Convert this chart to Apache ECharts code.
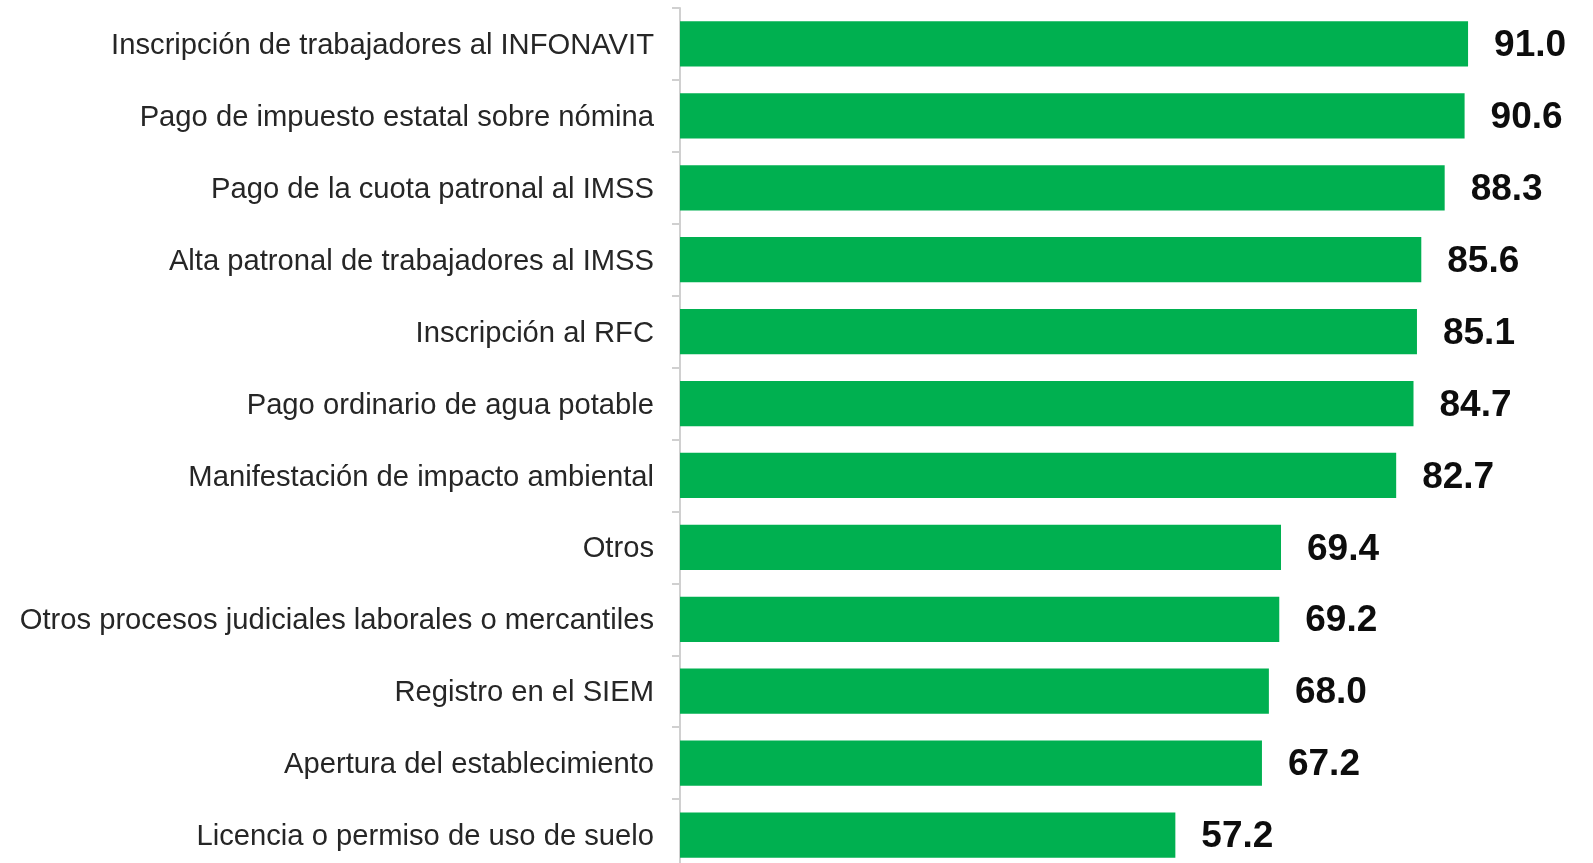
<!DOCTYPE html>
<html>
<head>
<meta charset="UTF-8">
<title>Trámites</title>
<script src="https://cdn.jsdelivr.net/npm/echarts@6/dist/echarts.min.js"></script>
<style type="text/css">
body{
	padding:0;
	margin:0;
	background:#fff;
}
#chart{
	width:1593px;
	height:863px;
}
</style>
</head>
<body>
<div id="chart"></div>
<script type="text/javascript">
// categorias de arriba hacia abajo
var categorias = [
	'Inscripción de trabajadores al INFONAVIT',
	'Pago de impuesto estatal sobre nómina',
	'Pago de la cuota patronal al IMSS',
	'Alta patronal de trabajadores al IMSS',
	'Inscripción al RFC',
	'Pago ordinario de agua potable',
	'Manifestación de impacto ambiental',
	'Otros',
	'Otros procesos judiciales laborales o mercantiles',
	'Registro en el SIEM',
	'Apertura del establecimiento',
	'Licencia o permiso de uso de suelo'
];
var valores = [91.0, 90.6, 88.3, 85.6, 85.1, 84.7, 82.7, 69.4, 69.2, 68.0, 67.2, 57.2];

var fuente = '"Liberation Sans", Arial, sans-serif';

var myChart = echarts.init(document.getElementById('chart'));

var option = {
	animation: false,
	grid: {
		left: 680,
		top: 8,
		width: 866,
		height: 863,
		containLabel: false,
		outerBoundsMode: 'none'
	},
	xAxis: {
		type: 'value',
		min: 0,
		max: 100,
		show: false
	},
	yAxis: {
		type: 'category',
		inverse: true,
		data: categorias,
		axisLine: {
			lineStyle: { color: '#d0d0d0', width: 2 }
		},
		axisTick: {
			show: true,
			length: 8,
			lineStyle: { color: '#d0d0d0', width: 2 }
		},
		axisLabel: {
			margin: 26,
			formatter: function (v) { return '{t|' + v + '}'; },
			rich: {
				t: {
					fontFamily: fuente,
					fontSize: 29.2,
					color: '#262626',
					padding: [4, 0, 0, 0]
				}
			}
		}
	},
	series: [
		{
			type: 'bar',
			data: valores,
			barCategoryGap: '37%',
			itemStyle: { color: '#00b050' },
			label: {
				show: true,
				position: 'right',
				distance: 26,
				offset: [0, 2],
				fontFamily: fuente,
				fontSize: 37,
				fontWeight: 'bold',
				color: '#0d0d0d',
				formatter: function (p) { return p.value.toFixed(1); }
			}
		}
	]
};

myChart.setOption(option);
</script>
</body>
</html>
